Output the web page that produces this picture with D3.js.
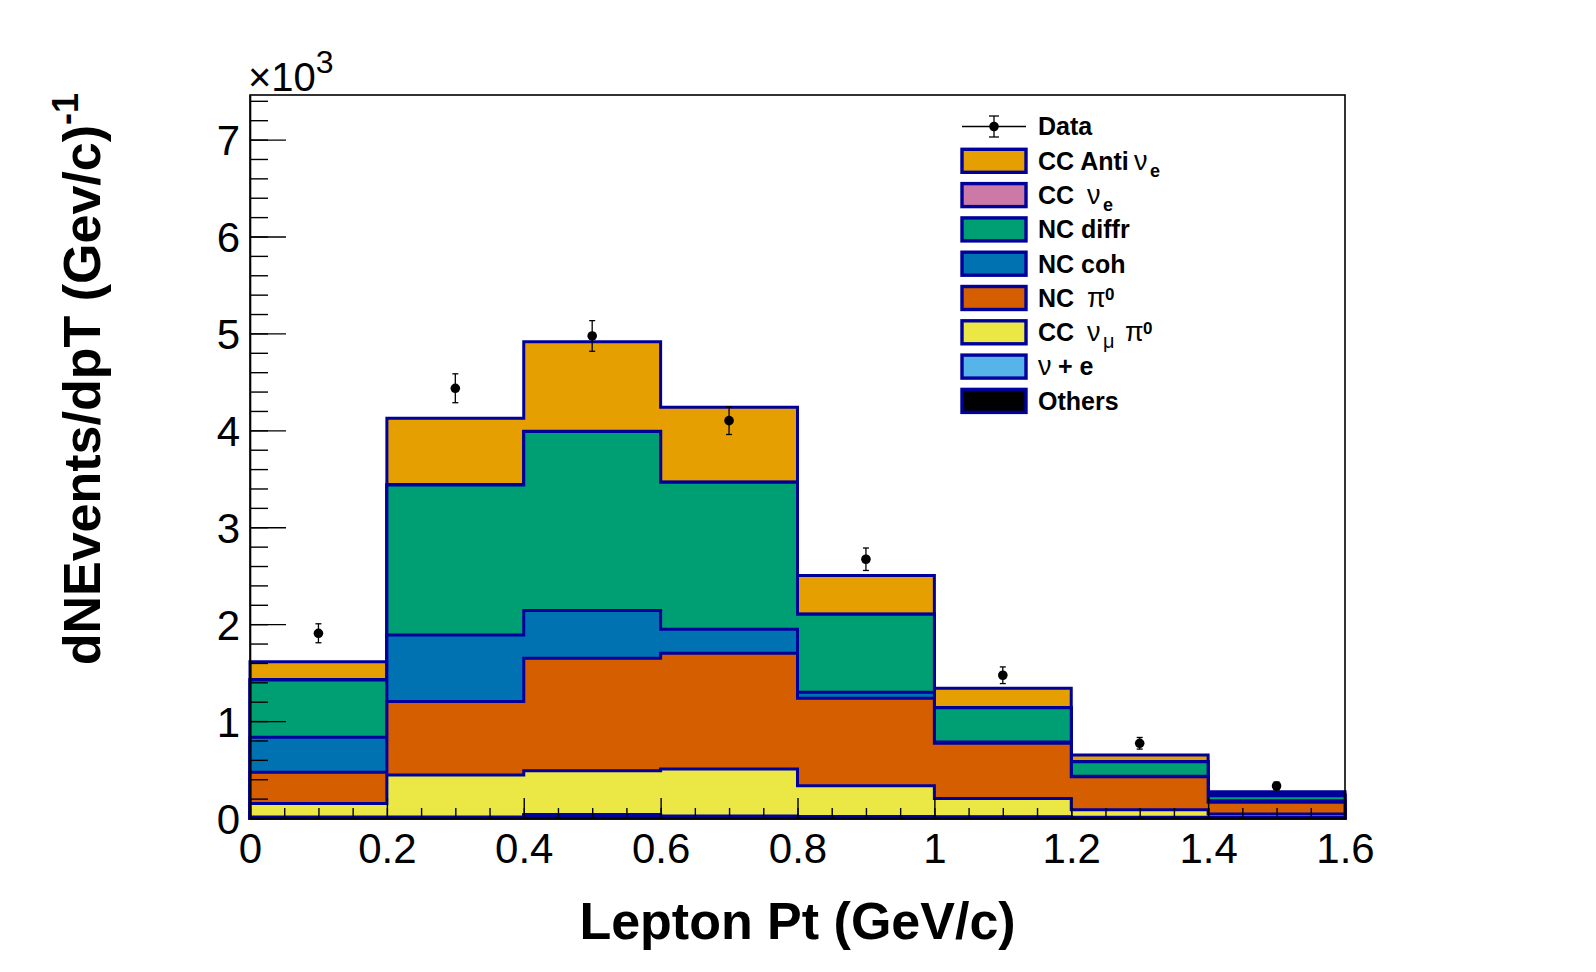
<!DOCTYPE html>
<html>
<head>
<meta charset="utf-8">
<script src="https://cdn.jsdelivr.net/npm/d3@7"></script>
<style>
  body { margin: 0; background: #fff; }
  text { font-family: "Liberation Sans", Arial, Helvetica, sans-serif; }
</style>
</head>
<body>
<div id="chart"></div>
<script>
// bins in lepton pt (GeV/c)
var binLow = [0, 0.2, 0.4, 0.6, 0.8, 1.0, 1.2, 1.4];
var binWidth = 0.2;

// MC components, dNEvents/dpT, bottom of the stack first
var others     = [5, 5, 30, 15, 10, 8, 5, 5];
var nuElastic  = [5, 5, 5, 5, 5, 4, 3, 2];
var ccNumuPi0  = [140, 434, 453, 485, 318, 188, 77, 33];
var ncPi0      = [322, 759, 1160, 1195, 902, 571, 341, 122];
var ncCoh      = [361, 686, 492, 248, 62, 14, 4, 16];
var ncDiffr    = [591, 1548, 1847, 1516, 805, 353, 151, 52];
var ccNue      = [6, 3, 3, 4, 3, 2, 2, 15];
var ccAntiNue  = [183, 685, 925, 770, 396, 198, 67, 26];

// data points
var dataVals = [1906, 4434, 4974, 4100, 2670, 1473, 771, 330];
var dataErr  = [98, 149, 158, 143, 116, 86, 60, 41];

// axis ticks
var xTicks = [0, 0.2, 0.4, 0.6, 0.8, 1.0, 1.2, 1.4, 1.6];
var xTickLabels = ["0", "0.2", "0.4", "0.6", "0.8", "1", "1.2", "1.4", "1.6"];
var yTicks = [0, 1000, 2000, 3000, 4000, 5000, 6000, 7000];
var yTickLabels = ["0", "1", "2", "3", "4", "5", "6", "7"];

var W = 1596, H = 972;
var margin = {top: 95, right: 251, bottom: 154, left: 250};
var width = W - margin.left - margin.right,
    height = H - margin.top - margin.bottom;
var navy = "#00009A";
var fontBold = 700;

var components = [
  {key: "others",    values: others,    color: "#000000"},
  {key: "nuElastic", values: nuElastic, color: "#56B4E9"},
  {key: "ccNumuPi0", values: ccNumuPi0, color: "#EBE845"},
  {key: "ncPi0",     values: ncPi0,     color: "#D55E00"},
  {key: "ncCoh",     values: ncCoh,     color: "#0072B2"},
  {key: "ncDiffr",   values: ncDiffr,   color: "#009E73"},
  {key: "ccNue",     values: ccNue,     color: "#CC79A7"},
  {key: "ccAntiNue", values: ccAntiNue, color: "#E69F00"}
];

var svg = d3.select("#chart").append("svg")
  .attr("width", W)
  .attr("height", H);

svg.append("rect").attr("width", W).attr("height", H).attr("fill", "#fff");

var x = d3.scaleLinear().domain([0, 1.6]).range([margin.left, margin.left + width]);
var y = d3.scaleLinear().domain([0, 7460]).range([margin.top + height, margin.top]);

// stack the components
var rows = binLow.map(function(b, i) {
  var r = {x: b};
  components.forEach(function(c) { r[c.key] = c.values[i]; });
  return r;
});
var stacked = d3.stack().keys(components.map(function(c) { return c.key; }))(rows);

var step = d3.line()
  .x(function(d) { return x(d[0]); })
  .y(function(d) { return y(d[1]); })
  .curve(d3.curveStepAfter);

var xEnd = binLow[binLow.length - 1] + binWidth;

// like THStack: draw the cumulative histograms from the top one down
var layers = svg.append("g");
for (var k = stacked.length - 1; k >= 0; k--) {
  var pts = stacked[k].map(function(d) { return [d.data.x, d[1]]; });
  var last = pts[pts.length - 1][1];
  pts = [[0, 0]].concat(pts).concat([[xEnd, last], [xEnd, 0]]);
  layers.append("path")
    .attr("d", step(pts) + "Z")
    .attr("fill", components[k].color)
    .attr("stroke", navy)
    .attr("stroke-width", 3)
    .attr("stroke-linejoin", "miter");
}

// Y axis
svg.append("g")
  .attr("transform", "translate(" + margin.left + ",0)")
  .call(d3.axisLeft(y).tickValues(d3.range(0, 7460, 200)).tickSize(-18).tickFormat("").tickSizeOuter(0))
  .call(function(g) { g.select(".domain").remove(); });

var yAxis = svg.append("g")
  .attr("transform", "translate(" + margin.left + ",0)")
  .call(d3.axisLeft(y).tickValues(yTicks).tickSize(-36).tickSizeOuter(0).tickPadding(10)
    .tickFormat(function(d, i) { return yTickLabels[i]; }));
yAxis.selectAll("text")
  .attr("font-size", 42)
  .attr("font-family", "'Liberation Sans', Arial, sans-serif")
  .attr("dy", "0.36em")
  .attr("fill", "#000");

// X axis
svg.append("g")
  .attr("transform", "translate(0," + (margin.top + height) + ")")
  .call(d3.axisBottom(x).tickValues(d3.range(0, 1.6001, 0.05)).tickSize(-10).tickFormat("").tickSizeOuter(0))
  .call(function(g) { g.select(".domain").remove(); });

var xAxis = svg.append("g")
  .attr("transform", "translate(0," + (margin.top + height) + ")")
  .call(d3.axisBottom(x).tickValues(xTicks).tickSize(-20).tickSizeOuter(0).tickPadding(15)
    .tickFormat(function(d, i) { return xTickLabels[i]; }));
xAxis.selectAll("text")
  .attr("font-size", 42)
  .attr("font-family", "'Liberation Sans', Arial, sans-serif")
  .attr("fill", "#000");

svg.selectAll(".tick line").attr("stroke", "#000").attr("stroke-width", 1.4);
svg.selectAll(".domain").attr("stroke", "#000").attr("stroke-width", 1.6);

// frame
svg.append("rect")
  .attr("x", margin.left).attr("y", margin.top)
  .attr("width", width).attr("height", height)
  .attr("fill", "none")
  .attr("stroke", "#000")
  .attr("stroke-width", 1.6);

// exponent label
var expo = svg.append("text")
  .attr("x", margin.left - 2)
  .attr("y", 91)
  .attr("font-size", 40);
expo.append("tspan").text("\u00D710");
expo.append("tspan").attr("font-size", 32).attr("dy", -18).text("3");

// data points with error bars
var pts = svg.append("g");
pts.selectAll(".err")
  .data(dataVals)
  .enter()
  .append("line")
  .attr("x1", function(d, i) { return x(binLow[i] + binWidth / 2); })
  .attr("x2", function(d, i) { return x(binLow[i] + binWidth / 2); })
  .attr("y1", function(d, i) { return y(d - dataErr[i]); })
  .attr("y2", function(d, i) { return y(d + dataErr[i]); })
  .attr("stroke", "#000")
  .attr("stroke-width", 1.3);

[-1, 1].forEach(function(s) {
  pts.selectAll(".cap" + s)
    .data(dataVals)
    .enter()
    .append("line")
    .attr("x1", function(d, i) { return x(binLow[i] + binWidth / 2) - 3; })
    .attr("x2", function(d, i) { return x(binLow[i] + binWidth / 2) + 3; })
    .attr("y1", function(d, i) { return y(d + s * dataErr[i]); })
    .attr("y2", function(d, i) { return y(d + s * dataErr[i]); })
    .attr("stroke", "#000")
    .attr("stroke-width", 1.3);
});

pts.selectAll("circle")
  .data(dataVals)
  .enter()
  .append("circle")
  .attr("cx", function(d, i) { return x(binLow[i] + binWidth / 2); })
  .attr("cy", function(d) { return y(d); })
  .attr("r", 4.8)
  .attr("fill", "#000");

// legend
var legendItems = [
  {type: "data", parts: [["Data", "b", 0]]},
  {type: "box", color: "#E69F00", parts: [["CC Anti", "b", 0], ["\u03BD", "g", 96], ["e", "sub", 112]]},
  {type: "box", color: "#CC79A7", parts: [["CC", "b", 0], ["\u03BD", "g", 49], ["e", "sub", 65]]},
  {type: "box", color: "#009E73", parts: [["NC diffr", "b", 0]]},
  {type: "box", color: "#0072B2", parts: [["NC coh", "b", 0]]},
  {type: "box", color: "#D55E00", parts: [["NC", "b", 0], ["\u03C0", "g", 49], ["0", "sup", 67]]},
  {type: "box", color: "#EBE845", parts: [["CC", "b", 0], ["\u03BD", "g", 49], ["\u03BC", "gsub", 65], ["\u03C0", "g", 87], ["0", "sup", 105]]},
  {type: "box", color: "#56B4E9", parts: [["\u03BD", "g", 0], ["+ e", "b", 20]]},
  {type: "box", color: "#000000", parts: [["Others", "b", 0]]}
];

var legend = svg.append("g");
var lx0 = 962, lx1 = 1026, textX = 1038;
legendItems.forEach(function(item, j) {
  var cy = 126.5 + 34.3 * j;
  if (item.type === "data") {
    var mx = (lx0 + lx1) / 2;
    legend.append("line").attr("x1", lx0).attr("x2", lx1).attr("y1", cy).attr("y2", cy)
      .attr("stroke", "#000").attr("stroke-width", 1.3);
    legend.append("line").attr("x1", mx).attr("x2", mx).attr("y1", cy - 10.5).attr("y2", cy + 10.5)
      .attr("stroke", "#000").attr("stroke-width", 1.3);
    [-10.5, 10.5].forEach(function(o) {
      legend.append("line").attr("x1", mx - 5).attr("x2", mx + 5).attr("y1", cy + o).attr("y2", cy + o)
        .attr("stroke", "#000").attr("stroke-width", 1.3);
    });
    legend.append("circle").attr("cx", mx).attr("cy", cy).attr("r", 4.8).attr("fill", "#000");
  } else {
    legend.append("rect")
      .attr("x", lx0).attr("y", cy - 11.5)
      .attr("width", lx1 - lx0).attr("height", 23)
      .attr("fill", item.color)
      .attr("stroke", navy)
      .attr("stroke-width", 3.4);
  }
  var base = cy + 8.8;
  item.parts.forEach(function(p) {
    var t = legend.append("text")
      .attr("x", textX + p[2])
      .text(p[0]);
    if (p[1] === "b") {
      t.attr("y", base).attr("font-size", 25).attr("font-weight", fontBold);
    } else if (p[1] === "g") {
      t.attr("y", base).attr("font-size", 27).attr("font-family", "'Liberation Serif', 'Times New Roman', serif");
    } else if (p[1] === "gsub") {
      t.attr("y", base + 7).attr("font-size", 20).attr("font-family", "'Liberation Serif', 'Times New Roman', serif");
    } else if (p[1] === "sub") {
      t.attr("y", base + 7).attr("font-size", 18).attr("font-weight", fontBold);
    } else if (p[1] === "sup") {
      t.attr("y", base - 7).attr("font-size", 17).attr("font-weight", fontBold);
    }
  });
});

// axis titles
svg.append("text")
  .attr("x", margin.left + width / 2)
  .attr("y", 939)
  .attr("text-anchor", "middle")
  .attr("font-size", 52)
  .attr("font-weight", fontBold)
  .text("Lepton Pt (GeV/c)");

var yTitle = svg.append("text")
  .attr("transform", "translate(100," + (margin.top - 2) + ") rotate(-90)")
  .attr("text-anchor", "end")
  .attr("font-size", 52)
  .attr("font-weight", fontBold);
yTitle.append("tspan").text("dNEvents/dpT (Gev/c)");
yTitle.append("tspan").attr("font-size", 36).attr("dy", -22).text("-1");
</script>
</body>
</html>
